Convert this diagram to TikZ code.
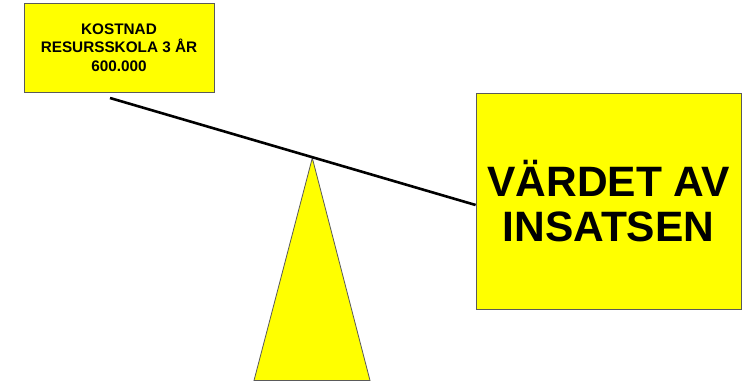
\documentclass[tikz,border=0pt]{standalone}
\usepackage{fontspec}
\setmainfont{Liberation Sans}
\usetikzlibrary{positioning}
\definecolor{SignYellow}{RGB}{255,255,0}
\definecolor{EdgeGray}{RGB}{90,90,90}

\begin{document}
\begin{tikzpicture}[
  x=1pt, y=-1pt,
  sign/.style={draw=EdgeGray, line width=0.8pt, fill=SignYellow, align=center, inner sep=0pt, font=\bfseries},
  beam/.style={line width=2.6pt, draw=black}
]
\useasboundingbox (0,0) rectangle (744,382);
\node[sign, minimum width=190pt, minimum height=89pt, font=\bfseries\fontsize{15.3}{18.5}\selectfont] (cost) at (119,47.5) {KOSTNAD\\ RESURSSKOLA 3 ÅR\\ 600.000};
\node[sign, minimum width=265pt, minimum height=216pt, font=\bfseries\fontsize{42.5}{45}\selectfont] (value) at (608.5,201) {VÄRDET AV\\ INSATSEN};

% fulcrum
\coordinate (apex) at (312.3,158);
\draw[draw=EdgeGray, line width=0.8pt, fill=SignYellow] (apex) -- (370,380.5) -- (254,380.5) -- cycle;

% beam
\coordinate (beamL) at (110,98);
\coordinate (beamR) at (value.west |- 0,205);
\draw[beam] (beamL) -- (beamR);
\end{tikzpicture}
\end{document}
